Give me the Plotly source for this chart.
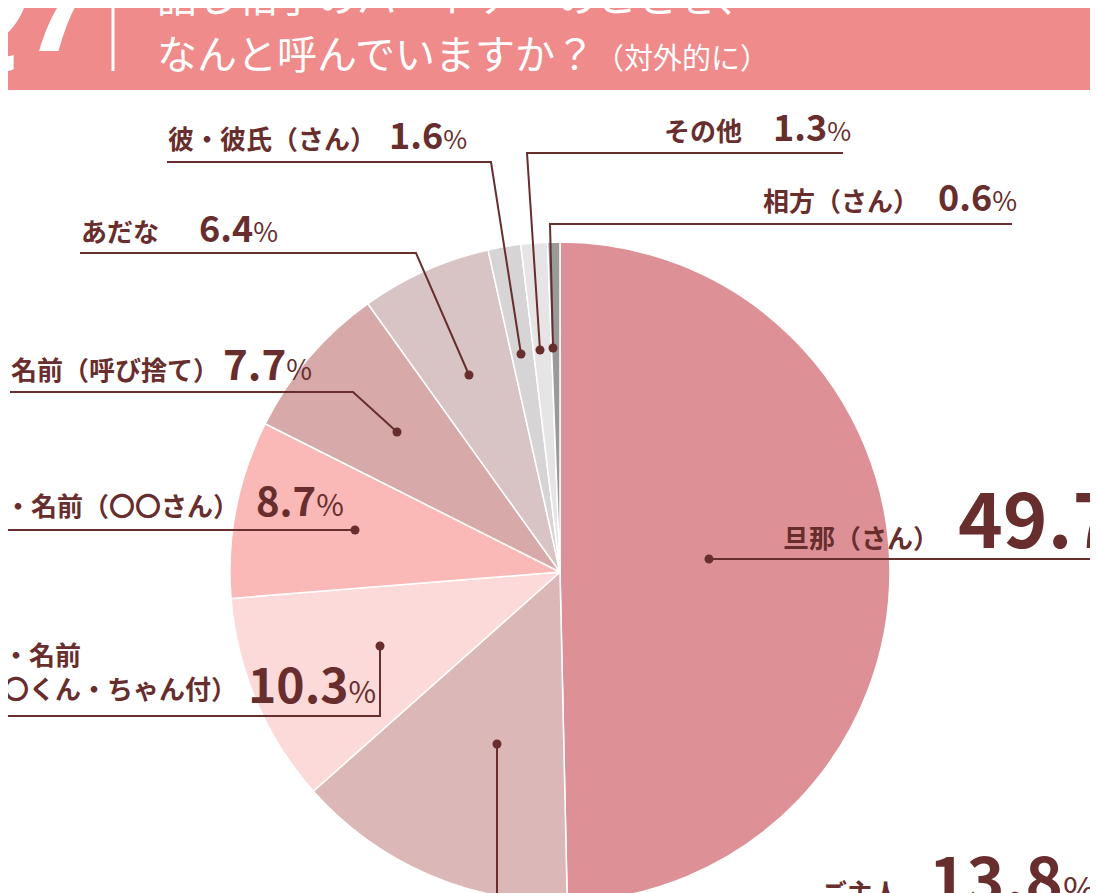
import plotly.graph_objects as go

# chart data
labels = ["旦那（さん）", "ご主人", "名字・名前（〇〇くん・ちゃん付）", "名字・名前（〇〇さん）",
          "名前（呼び捨て）", "あだな", "彼・彼氏（さん）", "その他", "相方（さん）"]
values = [49.7, 13.8, 10.3, 8.7, 7.7, 6.4, 1.6, 1.3, 0.6]
colors = ["#DD9196", "#DBB8B7", "#FDDADA", "#FAB9B7", "#D7A9A9",
          "#D8C4C4", "#D6D4D5", "#E6E4E4", "#9B9A9A"]

title_line1 = "話し相手のパートナーのことを、"
title_line2 = "なんと呼んでいますか？"
title_note = "（対外的に）"

# the page body has an 8px margin, so all positions are shifted by it
OFF = 8
W, H = 1090, 894
INK = "#682D2D"
BAND = "#EF8B8B"
FONT = "Noto Sans CJK JP"
DESC = 0.288  # font box below the baseline, in em


def px(x):
    return (x - OFF) / W


def py(y):
    return 1 - (y - OFF) / H


fig = go.Figure()

fig.add_trace(go.Pie(
    labels=labels, values=values, sort=False, direction="clockwise", rotation=0,
    marker=dict(colors=colors, line=dict(color="white", width=1.5)),
    textinfo="none", hoverinfo="label+value", showlegend=False,
    domain=dict(x=[px(230), px(890)], y=[py(902), py(242)]),
))

shapes = []
annotations = []

# header band
shapes.append(dict(type="rect", xref="paper", yref="paper", x0=0, x1=1, y0=py(90), y1=1,
                   fillcolor=BAND, line=dict(width=0), layer="above"))
shapes.append(dict(type="line", xref="paper", yref="paper", x0=px(113), x1=px(113),
                   y0=py(71), y1=1, line=dict(color="white", width=3), layer="above"))


def text_at(text, x, base, size, xanchor="left", color=INK, bold=True):
    annotations.append(dict(
        text=text, xref="paper", yref="paper", x=px(x), y=py(base + DESC * size),
        xanchor=xanchor, yanchor="bottom", showarrow=False, align="left", borderpad=0,
        font=dict(family=FONT, size=size, color=color, weight="bold" if bold else "normal"),
    ))


text_at("<i>Q</i>", 37, 47, 130, xanchor="right", color="white")
text_at("<i>7</i>", 110, 52, 130, xanchor="right", color="white")
text_at(title_line1, 156, 13, 40, color="white", bold=False)
text_at(title_line2 + "<span style='font-size:29px'>" + title_note + "</span>",
        156, 70, 40, color="white", bold=False)

# leader lines: points from the slice dot outwards
leaders = [
    [(709, 559), (1110, 559)],
    [(497, 744), (497, 910)],
    [(380, 646), (380, 716), (-10, 716)],
    [(355, 530), (-10, 530)],
    [(397, 432), (353, 392), (10, 392)],
    [(469, 375), (416, 253), (80, 253)],
    [(521, 354), (491, 162), (167, 162)],
    [(540, 350), (527, 153), (843, 153)],
    [(553, 348), (550, 224), (1012, 224)],
]
for pts in leaders:
    path = "M " + " L ".join(f"{px(a):.5f},{py(b):.5f}" for a, b in pts)
    shapes.append(dict(type="path", xref="paper", yref="paper", path=path,
                       line=dict(color=INK, width=2), layer="above"))
    dx, dy = pts[0]
    r = 4.5
    shapes.append(dict(type="circle", xref="paper", yref="paper",
                       x0=px(dx - r), x1=px(dx + r), y0=py(dy + r), y1=py(dy - r),
                       fillcolor=INK, line=dict(width=0), layer="above"))

# label placement: (label x, label anchor, value x, baseline, value size, percent size)
label_pos = [
    (940, "right", 957, 549, 76, 36),
    (820, "left", 928, 904, 64, 36),
    (238, "right", 247, 704, 48, 30),
    (240, "right", 255, 517, 40, 30),
    (10, "left", 222, 381, 42, 28),
    (80, "left", 198, 243, 36, 27),
    (167, "left", 388, 150, 36, 26),
    (663, "left", 772, 142, 36, 26),
    (920, "right", 937, 212, 36, 27),
]
for lab, val, (lx, la, vx, base, vs, ps) in zip(labels, values, label_pos):
    if "くん" in lab:
        # two-line label, broken after the first name part
        text_at(lab[:5] + "<br>" + lab[5:], lx, base - 4, 26, xanchor=la)
    else:
        text_at(lab, lx, base, 26, xanchor=la)
    text_at(f"{val}<span style='font-size:{ps}px;font-weight:normal'>%</span>", vx, base, vs)

fig.update_layout(
    width=W, height=H, margin=dict(l=0, r=0, t=0, b=0),
    paper_bgcolor="white", plot_bgcolor="white",
    shapes=shapes, annotations=annotations, showlegend=False,
)

fig.write_html("out.html")
